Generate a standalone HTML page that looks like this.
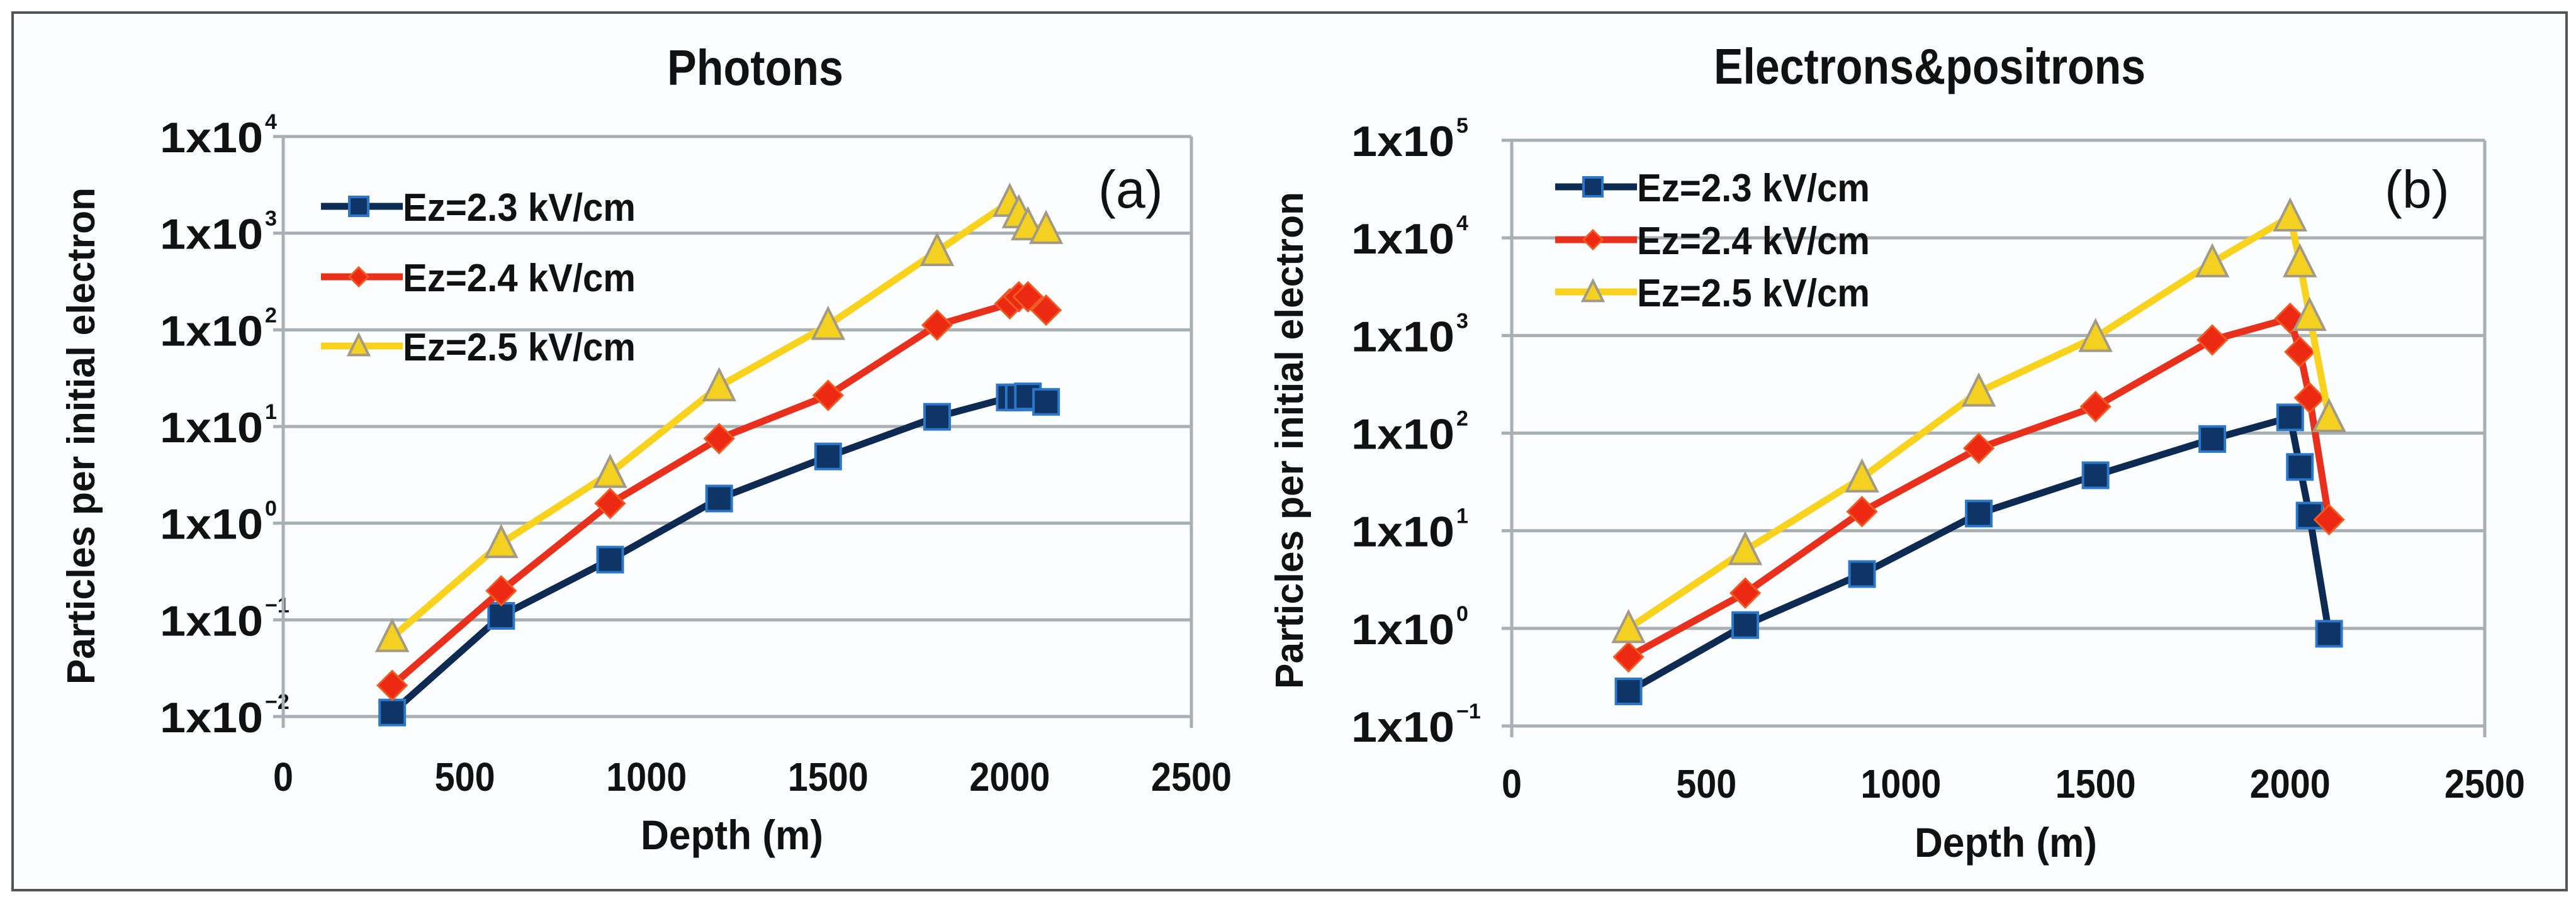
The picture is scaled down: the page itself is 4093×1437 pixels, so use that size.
<!DOCTYPE html>
<html><head><meta charset="utf-8">
<style>
html,body{margin:0;padding:0;background:#fff;}
svg{display:block;}
text{font-family:"Liberation Sans",Arial,sans-serif;fill:#111;}
</style></head>
<body>
<svg id="fig" width="4093" height="1437" viewBox="0 0 4093 1437" xmlns="http://www.w3.org/2000/svg">
<rect x="20" y="20" width="4058" height="1395" fill="#fbfdfe" stroke="#555" stroke-width="4"/>
</svg>
<script>
const depths = [300,600,900,1200,1500,1800,2000,2025,2050,2100];
const xTicks = [0,500,1000,1500,2000,2500];
const seriesLabels = ["Ez=2.3 kV/cm","Ez=2.4 kV/cm","Ez=2.5 kV/cm"];
const photon23 = [0.011,0.11,0.42,1.8,4.9,12.6,20,20,20.5,18];
const photon24 = [0.021,0.2,1.6,7.5,21,112,186,220,220,160];
const photon25 = [0.066,0.62,3.3,26,112,650,2100,1600,1200,1100];
const elec23 = [0.226,1.08,3.6,15,37,87,145,45,14.3,0.88];
const elec24 = [0.51,2.3,15.7,70,187,900,1500,680,230,13];
const elec25 = [1.0,6.3,35,265,960,5600,16500,5600,1580,145];
const photonYExp = [-2,-1,0,1,2,3,4];
const elecYExp = [-1,0,1,2,3,4,5];

const NS="http://www.w3.org/2000/svg";
const svg=document.getElementById('fig');
function mk(tag,attrs,parent){const e=document.createElementNS(NS,tag);for(const k in attrs)e.setAttribute(k,attrs[k]);(parent||svg).appendChild(e);return e;}

const styles=[
 {line:"#0c2a52",fill:"#0e3566",stroke:"#2b78c8",shape:"square"},
 {line:"#e8301c",fill:"#ec2a14",stroke:"#f05a20",shape:"diamond"},
 {line:"#f8d21c",fill:"#f4d020",stroke:"#a09a86",shape:"triangle"}
];
function marker(g,shape,x,y,st,s){
  let e;
  if(shape==="square"){e=mk('rect',{x:x-s/2,y:y-s/2,width:s,height:s,fill:st.fill,stroke:st.stroke,'stroke-width':4},g);}
  else if(shape==="diamond"){e=mk('polygon',{points:`${x},${y-s/2} ${x+s/2},${y} ${x},${y+s/2} ${x-s/2},${y}`,fill:st.fill,stroke:st.stroke,'stroke-width':3},g);}
  else {e=mk('polygon',{points:`${x},${y-s*0.55} ${x+s/2},${y+s*0.45} ${x-s/2},${y+s*0.45}`,fill:st.fill,stroke:st.stroke,'stroke-width':4},g);}
  return e;
}

function chart(cfg){
  const g=mk('g',{});
  
  
  const {x0,x1,y0,y1,eMin,eMax}=cfg;
  const xs=v=>x0+(v/2500)*(x1-x0);
  const ys=v=>y1-(Math.log10(v)-eMin)/(eMax-eMin)*(y1-y0);
  cfg.yExp.forEach(ex=>{
    const y=y1-(ex-eMin)/(eMax-eMin)*(y1-y0);
    const l=mk('line',{x1:x0-16,x2:x1,y1:y,y2:y,stroke:"#a9b0b4","stroke-width":5},g);
    
    
    const t=mk('text',{x:cfg.tickRight,y:y+25,'font-size':68,'text-anchor':'end','font-weight':'bold','textLength':164,'lengthAdjust':'spacingAndGlyphs'},g);
    
    
    t.textContent="1x10";
    const s=mk('text',{x:cfg.tickRight+3,y:y-12,'font-size':34,'font-weight':'bold'},g);
    
    
    s.textContent=String(ex).replace('-','\u2212');
  });
  const ax=mk('line',{x1:x0,x2:x0,y1:y0,y2:y1+18,stroke:"#a9b0b4","stroke-width":5},g);
  
  
  const rx=mk('line',{x1:x1,x2:x1,y1:y0,y2:y1+18,stroke:"#a9b0b4","stroke-width":5},g);
  
  
  xTicks.forEach(v=>{
    const t=mk('text',{x:xs(v),y:cfg.xLabelY,'font-size':64,'text-anchor':'middle','font-weight':'bold','textLength':String(v).length*32,'lengthAdjust':'spacingAndGlyphs'},g);
    
    
    t.textContent=String(v);
  });
  const xt=mk('text',{x:cfg.xTitleX,y:cfg.xTitleY,'font-size':66,'text-anchor':'middle','font-weight':'bold','textLength':290,'lengthAdjust':'spacingAndGlyphs'},g);
  
  
  xt.textContent="Depth (m)";
  const yt=mk('text',{x:0,y:0,'font-size':62,'text-anchor':'middle','font-weight':'bold','textLength':790,'lengthAdjust':'spacingAndGlyphs',transform:`translate(${cfg.yTitleX},${cfg.yTitleY}) rotate(-90)`},g);
  
  
  yt.textContent="Particles per initial electron";
  const tt=mk('text',{x:cfg.titleX,y:cfg.titleY,'font-size':80,'text-anchor':'middle','font-weight':'bold','textLength':cfg.titleLen,'lengthAdjust':'spacingAndGlyphs'},g);
  
  
  tt.textContent=cfg.title;
  const pl=mk('text',{x:cfg.panelX,y:cfg.panelY,'font-size':84},g);
  
  
  pl.textContent=cfg.panel;
  cfg.series.forEach((vals,i)=>{
    const st=styles[i];
    const sg=mk('g',{},g);
    
    
    const pts=vals.map((v,j)=>xs(depths[j]).toFixed(1)+","+ys(v).toFixed(1)).join(" ");
    const p=mk('polyline',{points:pts,fill:"none",stroke:st.line,"stroke-width":11,"stroke-linejoin":"round"},sg);
    
    
    vals.forEach((v,j)=>{
      const m=marker(sg,st.shape,xs(depths[j]),ys(v),st,st.shape==="square"?40:st.shape==="diamond"?46:48);
      
      
    });
  });
  const lg=mk('g',{},g);
  
  
  cfg.legendY.forEach((ly,i)=>{
    const st=styles[i];
    const e=mk('g',{},lg);
    
    
    mk('line',{x1:cfg.legX,x2:cfg.legX+130,y1:ly,y2:ly,stroke:st.line,"stroke-width":11},e);
    marker(e,st.shape,cfg.legX+60,ly,st,st.shape==="square"?30:st.shape==="diamond"?30:32);
    const t=mk('text',{x:cfg.legX+130,y:ly+23,'font-size':62,'font-weight':'bold','textLength':370,'lengthAdjust':'spacingAndGlyphs'},e);
    t.textContent=seriesLabels[i];
  });
}

chart({name:'photons-chart',x0:450,x1:1893,y0:217,y1:1139,eMin:-2,eMax:4,yExp:photonYExp,
  tickRight:418,xLabelY:1257,xTitleX:1163,xTitleY:1350,yTitleX:150,yTitleY:693,
  title:"Photons",titleX:1200,titleY:135,titleLen:280,panel:"(a)",panelX:1745,panelY:330,
  series:[photon23,photon24,photon25],legX:510,legendY:[328,440,550]});
chart({name:'electrons-positrons-chart',x0:2402,x1:3948,y0:223,y1:1154,eMin:-1,eMax:5,yExp:elecYExp,
  tickRight:2311,xLabelY:1268,xTitleX:3187,xTitleY:1362,yTitleX:2070,yTitleY:700,
  title:"Electrons&positrons",titleX:3066,titleY:133,titleLen:686,panel:"(b)",panelX:3789,panelY:330,
  series:[elec23,elec24,elec25],legX:2471,legendY:[297,381,464]});
</script>
</body></html>
